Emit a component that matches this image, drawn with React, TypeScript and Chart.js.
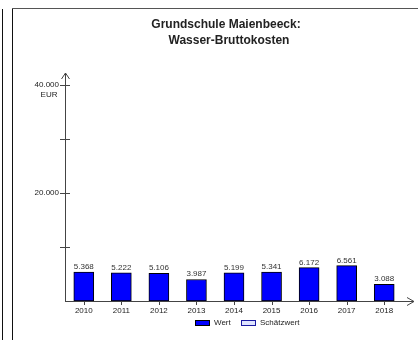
import React, { useEffect, useRef } from "react";
import { Chart, registerables } from "chart.js";

Chart.register(...registerables);

const titleLines = ["Grundschule Maienbeeck:", "Wasser-Bruttokosten"];
const years = ["2010", "2011", "2012", "2013", "2014", "2015", "2016", "2017", "2018"];
const wert = [5368, 5222, 5106, 3987, 5199, 5341, 6172, 6561, 3088];
const schaetzwert: (number | null)[] = [null, null, null, null, null, null, null, null, null];
const yTickValues = [10000, 20000, 30000, 40000];
const yLabeledTicks = [20000, 40000];
const unitLabel = "EUR";
const legendLabels = ["Wert", "Schätzwert"];

const FONT = 'Arial, "Liberation Sans", sans-serif';
const W = 418;
const H = 340;

function fmt(v: number): string {
  return String(Math.round(v)).replace(/\B(?=(\d{3})+(?!\d))/g, ".");
}

const decorPlugin = {
  id: "decor",
  afterDraw(chart: any) {
    const ctx = chart.ctx as CanvasRenderingContext2D;
    const xs = chart.scales.x;
    const ys = chart.scales.y;
    const area = chart.chartArea;
    ctx.save();

    // frame lines
    ctx.fillStyle = "#111";
    ctx.fillRect(2, 9, 1, H - 9);
    ctx.fillRect(12, 8, 1, H - 8);
    ctx.fillStyle = "#555";
    ctx.fillRect(12, 8, W - 12, 1);

    // axes
    const ax = Math.round(area.left);
    const ay = Math.round(ys.getPixelForValue(0));
    const yTop = Math.round(ys.getPixelForValue(40000)) - 12;
    const xEnd = W - 4;
    ctx.strokeStyle = "#444";
    ctx.lineWidth = 1;
    ctx.beginPath();
    ctx.moveTo(ax + 0.5, ay + 0.5);
    ctx.lineTo(ax + 0.5, yTop);
    ctx.moveTo(ax, ay + 0.5);
    ctx.lineTo(xEnd, ay + 0.5);
    // arrows
    ctx.moveTo(ax - 3.5, yTop + 6);
    ctx.lineTo(ax + 0.5, yTop);
    ctx.lineTo(ax + 4.5, yTop + 6);
    ctx.moveTo(xEnd - 7, ay - 3.5);
    ctx.lineTo(xEnd, ay + 0.5);
    ctx.lineTo(xEnd - 7, ay + 4.5);
    ctx.stroke();

    // y ticks
    ctx.beginPath();
    yTickValues.forEach((v) => {
      const py = Math.round(ys.getPixelForValue(v)) + 0.5;
      ctx.moveTo(ax - 5, py);
      ctx.lineTo(ax + 5, py);
    });
    // x ticks
    years.forEach((_, i) => {
      const px = Math.round(xs.getPixelForValue(i)) + 0.5;
      ctx.moveTo(px, ay);
      ctx.lineTo(px, ay + 4);
    });
    ctx.stroke();

    // unit label
    ctx.fillStyle = "#222";
    ctx.font = `8px ${FONT}`;
    ctx.textAlign = "center";
    ctx.textBaseline = "middle";
    ctx.fillText(unitLabel, ax - 16, Math.round(ys.getPixelForValue(40000)) + 10);

    // value labels
    const meta = chart.getDatasetMeta(0);
    ctx.textBaseline = "alphabetic";
    ctx.fillStyle = "#333";
    meta.data.forEach((bar: any, i: number) => {
      ctx.fillText(fmt(wert[i]), bar.x, bar.y - 3);
    });

    // title
    ctx.fillStyle = "#222";
    ctx.font = `bold 12px ${FONT}`;
    ctx.textBaseline = "middle";
    ctx.fillText(titleLines[0], 226, 25);
    ctx.fillText(titleLines[1], 229, 41);

    // legend
    const ly = 323;
    ctx.font = `8px ${FONT}`;
    ctx.textAlign = "left";
    ctx.fillStyle = "#0000ff";
    ctx.fillRect(195, ly - 2, 15, 4);
    ctx.strokeStyle = "#000";
    ctx.strokeRect(195.5, ly - 2.5, 14, 5);
    ctx.fillStyle = "#222";
    ctx.fillText(legendLabels[0], 214, ly);

    ctx.fillStyle = "#dfe4ff";
    ctx.fillRect(241, ly - 2, 15, 4);
    ctx.strokeStyle = "#1a1aa0";
    ctx.strokeRect(241.5, ly - 2.5, 14, 5);
    ctx.fillStyle = "#222";
    ctx.fillText(legendLabels[1], 260, ly);

    ctx.restore();
  },
};

export default function App() {
  const ref = useRef<HTMLCanvasElement | null>(null);

  useEffect(() => {
    if (!ref.current) return;
    const chart = new Chart(ref.current, {
      type: "bar",
      data: {
        labels: years,
        datasets: [
          {
            label: legendLabels[0],
            data: wert,
            backgroundColor: "#0000ff",
            borderColor: "#000000",
            borderWidth: 1,
            borderSkipped: false,
            barThickness: 20,
          },
          {
            label: legendLabels[1],
            data: schaetzwert,
            backgroundColor: "#dfe4ff",
            borderColor: "#1a1aa0",
            borderWidth: 1,
            barThickness: 20,
          },
        ],
      },
      options: {
        responsive: false,
        animation: false,
        devicePixelRatio: 1,
        layout: { padding: { top: 85, right: 15, left: 0, bottom: 0 } },
        datasets: { bar: { grouped: false } },
        plugins: {
          legend: { display: false },
          title: { display: false },
          tooltip: { enabled: false },
        },
        scales: {
          x: {
            offset: true,
            grid: { display: false, drawTicks: false, tickLength: 0 },
            border: { display: false },
            ticks: {
              padding: 5,
              color: "#222",
              font: { family: FONT, size: 8 },
              maxRotation: 0,
            },
            afterFit: (s: any) => {
              s.height = 39;
            },
          },
          y: {
            min: 0,
            max: 40000,
            grid: { display: false, drawTicks: false, tickLength: 0 },
            border: { display: false },
            afterBuildTicks: (s: any) => {
              s.ticks = yTickValues.map((v) => ({ value: v }));
            },
            ticks: {
              padding: 6,
              color: "#222",
              font: { family: FONT, size: 8 },
              callback: (v: any) => (yLabeledTicks.includes(Number(v)) ? fmt(Number(v)) : ""),
            },
            afterFit: (s: any) => {
              s.width = 65;
            },
          },
        },
      },
      plugins: [decorPlugin],
    });
    return () => chart.destroy();
  }, []);

  return (
    <canvas
      ref={ref}
      width={W}
      height={H}
      style={{ position: "absolute", left: 0, top: 0, width: W, height: H, display: "block" }}
    />
  );
}
